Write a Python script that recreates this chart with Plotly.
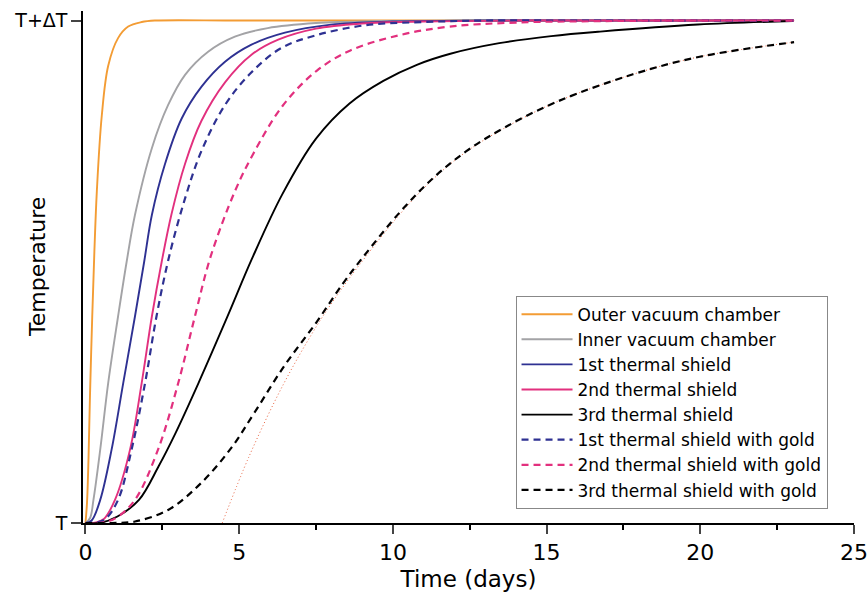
import plotly.graph_objects as go

# Outer vacuum chamber
outer_x = [0, 0.05, 0.10, 0.15, 0.22, 0.29, 0.37, 0.53, 0.74, 1.06, 1.39, 1.83, 2.26, 5.0, 10.0, 15.0, 20.0, 23.05]
outer_y = [0, 0.04, 0.13, 0.26, 0.41, 0.54, 0.66, 0.81, 0.91, 0.965, 0.988, 0.997, 1.0, 1.0, 1.0, 1.0, 1.0, 1.0]
# Inner vacuum chamber
inner_x = [0, 0.15, 0.26, 0.48, 0.74, 1.06, 1.34, 1.61, 2.16, 2.69, 3.24, 3.99, 4.86, 5.93, 7.50, 9.49, 11.97, 15.94, 19.92, 23.05]
inner_y = [0, 0.01, 0.046, 0.146, 0.279, 0.411, 0.52, 0.613, 0.746, 0.832, 0.892, 0.938, 0.968, 0.985, 0.995, 0.999, 1.0, 1.0, 1.0, 1.0]
# 1st thermal shield
s1_x = [0, 0.20, 0.48, 0.85, 1.23, 1.61, 1.91, 2.16, 2.58, 3.13, 3.77, 4.54, 5.40, 6.49, 7.99, 9.98, 12.96, 16.94, 19.92, 23.05]
s1_y = [0, 0.005, 0.046, 0.146, 0.279, 0.411, 0.52, 0.613, 0.713, 0.805, 0.868, 0.918, 0.952, 0.976, 0.992, 0.998, 1.0, 1.0, 1.0, 1.0]
# 2nd thermal shield
s2_x = [0, 0.35, 0.60, 0.96, 1.45, 1.83, 2.16, 2.48, 2.80, 3.24, 3.77, 4.54, 5.40, 6.27, 7.50, 8.99, 10.98, 13.96, 17.93, 23.05]
s2_y = [0, 0.001, 0.008, 0.046, 0.146, 0.279, 0.411, 0.52, 0.615, 0.715, 0.80, 0.877, 0.932, 0.962, 0.984, 0.994, 0.998, 1.0, 1.0, 1.0]
# 3rd thermal shield
s3_x = [0, 0.45, 1.04, 1.74, 2.38, 2.93, 3.68, 4.62, 5.41, 6.41, 7.50, 8.59, 9.69, 10.78, 11.87, 13.46, 15.15, 16.74, 19.92, 23.0]
s3_y = [0, 0.0, 0.013, 0.046, 0.113, 0.179, 0.279, 0.411, 0.525, 0.655, 0.765, 0.835, 0.880, 0.912, 0.934, 0.955, 0.969, 0.978, 0.992, 0.999]
# 1st thermal shield with gold
g1_x = [0, 0.35, 0.65, 1.06, 1.50, 1.94, 2.31, 2.72, 3.24, 3.77, 4.54, 5.37, 6.36, 7.52, 9.14, 10.98, 12.96, 15.94, 19.92, 23.05]
g1_y = [0, 0.001, 0.008, 0.046, 0.146, 0.279, 0.411, 0.53, 0.646, 0.74, 0.832, 0.895, 0.945, 0.971, 0.991, 0.997, 1.0, 1.0, 1.0, 1.0]
# 2nd thermal shield with gold
g2_x = [0, 0.55, 0.99, 1.61, 2.36, 3.02, 3.56, 4.07, 4.86, 5.46, 6.41, 7.52, 8.60, 10.22, 11.85, 14.02, 16.94, 19.92, 23.05]
g2_y = [0, 0.001, 0.01, 0.046, 0.146, 0.279, 0.411, 0.53, 0.660, 0.735, 0.83, 0.900, 0.940, 0.971, 0.988, 0.996, 0.999, 1.0, 1.0]
# 3rd thermal shield with gold
g3_x = [0, 0.84, 1.61, 2.69, 3.77, 4.75, 5.48, 6.46, 7.52, 8.38, 9.04, 10.22, 11.30, 12.39, 13.63, 15.32, 17.81, 19.98, 23.05]
g3_y = [0, 0.0, 0.003, 0.026, 0.080, 0.150, 0.218, 0.312, 0.400, 0.477, 0.530, 0.618, 0.686, 0.740, 0.787, 0.838, 0.893, 0.928, 0.957]
# Fit to 3rd thermal shield with gold (dotted)
fit_x = [4.45, 5.34, 6.43, 7.52, 8.38, 9.04, 10.22, 11.30, 12.39, 13.63, 15.32, 17.81, 19.98, 23.05]
fit_y = [0.0, 0.135, 0.275, 0.392, 0.470, 0.524, 0.614, 0.684, 0.739, 0.786, 0.838, 0.893, 0.928, 0.957]

x_ticks = [0, 5, 10, 15, 20, 25]
y_tickvals = [0, 1]
y_ticktext = ["T", "T+ΔT"]

ORANGE = "#F39C34"
GRAY = "#A3A3A6"
NAVY = "#2E3192"
MAGENTA = "#E2307E"
BLACK = "#000000"

fig = go.Figure()

def add(x, y, name, color, dash=None, width=1.9, legend=True):
    fig.add_trace(go.Scatter(
        x=x, y=y, mode="lines", name=name, showlegend=legend,
        line=dict(color=color, width=width, dash=dash, shape="spline", smoothing=1.0),
    ))

add(fit_x, fit_y, "fit", "#E8603C", dash="1px,2.5px", width=1.0, legend=False)
add(outer_x, outer_y, "Outer vacuum chamber", ORANGE)
add(inner_x, inner_y, "Inner vacuum chamber", GRAY)
add(s1_x, s1_y, "1st thermal shield", NAVY)
add(s2_x, s2_y, "2nd thermal shield", MAGENTA)
add(s3_x, s3_y, "3rd thermal shield", BLACK)
add(g1_x, g1_y, "1st thermal shield with gold", NAVY, dash="7px,5px", width=2.2)
add(g2_x, g2_y, "2nd thermal shield with gold", MAGENTA, dash="7px,5px", width=2.2)
add(g3_x, g3_y, "3rd thermal shield with gold", BLACK, dash="7px,5px", width=2.2)

FONT = "DejaVu Sans, Liberation Sans, Arial, sans-serif"
ML, MR, MT, MB = 83, 14, 11, 76
PW = 868 - ML - MR

fig.update_layout(
    width=868, height=599,
    margin=dict(l=ML, r=MR, t=MT, b=MB),
    plot_bgcolor="white", paper_bgcolor="white",
    font=dict(family=FONT, color="black", size=20),
    legend=dict(
        x=0.561, y=0.444, xanchor="left", yanchor="top",
        bordercolor="#888888", borderwidth=1, bgcolor="white",
        font=dict(size=17, family=FONT), tracegroupgap=0,
        itemwidth=51,
    ),
    annotations=[dict(
        text="Temperature", x=(37 - ML) / PW, y=0.5, xref="paper", yref="paper",
        xanchor="center", yanchor="middle", textangle=-90, showarrow=False,
        font=dict(size=22, family=FONT),
    )],
)

fig.update_xaxes(
    range=[-0.08, 25], tickvals=x_ticks, ticks="outside", ticklen=9, tickwidth=1.5,
    showline=True, linecolor="black", linewidth=1.5, showgrid=False, zeroline=False,
    minor=dict(dtick=2.5, tick0=0, ticks="outside", ticklen=5, tickwidth=1.5, tickcolor="black"),
    title=dict(text="Time (days)", font=dict(size=23), standoff=7),
    tickfont=dict(size=22), automargin=False,
)
fig.update_yaxes(
    range=[0, 1.019], tickvals=y_tickvals, ticktext=y_ticktext, ticks="outside", ticklen=10, tickwidth=1.5,
    showline=True, linecolor="black", linewidth=1.5, showgrid=False, zeroline=False,
    tickfont=dict(size=19), automargin=False,
)

fig.write_html("out.html", config={"displayModeBar": False},
               post_script="document.body.style.margin='0px';")
